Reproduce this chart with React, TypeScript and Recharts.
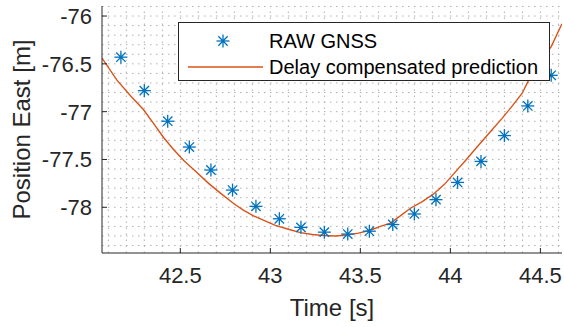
import {
  ComposedChart,
  Line,
  Scatter,
  XAxis,
  YAxis,
  ReferenceLine,
} from "recharts"

// RAW GNSS samples (time [s], east [m])
const gnssTime = [
  42.17, 42.3, 42.43, 42.55, 42.67, 42.79, 42.92, 43.05, 43.17, 43.3,
  43.43, 43.55, 43.68, 43.8, 43.92, 44.04, 44.17, 44.3, 44.43, 44.56,
]
const gnssEast = [
  -76.43, -76.78, -77.1, -77.37, -77.61, -77.82, -77.99, -78.12, -78.21, -78.26,
  -78.28, -78.25, -78.18, -78.07, -77.92, -77.74, -77.52, -77.25, -76.94, -76.62,
]

// delay compensated prediction
const predTime = [
  42.065, 42.148, 42.222, 42.296, 42.35, 42.407, 42.46, 42.519, 42.589, 42.657,
  42.728, 42.796, 42.85, 42.907, 42.967, 43.028, 43.1, 43.167, 43.233, 43.296,
  43.361, 43.426, 43.489, 43.556, 43.611, 43.667, 43.722, 43.778, 43.844, 43.907,
  43.967, 44.028, 44.089, 44.148, 44.217, 44.287, 44.344, 44.398, 44.435, 44.5,
  44.56, 44.62,
]
const predEast = [
  -76.44, -76.67, -76.83, -76.98, -77.12, -77.27, -77.39, -77.51, -77.63, -77.75,
  -77.86, -77.96, -78.03, -78.09, -78.14, -78.19, -78.23, -78.265, -78.285, -78.295,
  -78.3, -78.29, -78.27, -78.24, -78.2, -78.165, -78.09, -78.01, -77.94, -77.86,
  -77.76, -77.63, -77.5, -77.37, -77.22, -77.07, -76.94, -76.81, -76.67, -76.48,
  -76.32, -76.08,
]

const xTicks = [42.5, 43, 43.5, 44, 44.5]
const yTicks = [-78, -77.5, -77, -76.5, -76]
const xDomain: [number, number] = [42.065, 44.62]
const yDomain: [number, number] = [-78.478, -75.895]

// minor grid every 0.1
const minorX = Array.from({ length: 26 }, (_, i) => Math.round((42.1 + i * 0.1) * 10) / 10)
const minorY = Array.from({ length: 26 }, (_, i) => Math.round((-78.4 + i * 0.1) * 10) / 10)

const gnssData = gnssTime.map((t, i) => ({ t, east: gnssEast[i] }))
const predData = predTime.map((t, i) => ({ t, east: predEast[i] }))

const FONT = "'Liberation Sans', Arial, sans-serif"
const AXIS = "#262626"
const BLUE = "#0072BD"
const ORANGE = "#D95319"
const GRID = "#b0b0b0"

function Asterisk({ cx, cy }: { cx?: number; cy?: number }) {
  if (cx == null || cy == null) return null
  const r = 6.5
  const d = r * 0.72
  return (
    <g stroke={BLUE} strokeWidth={1.3} fill="none">
      <line x1={cx - r} y1={cy} x2={cx + r} y2={cy} />
      <line x1={cx} y1={cy - r} x2={cx} y2={cy + r} />
      <line x1={cx - d} y1={cy - d} x2={cx + d} y2={cy + d} />
      <line x1={cx - d} y1={cy + d} x2={cx + d} y2={cy - d} />
      <circle cx={cx} cy={cy} r={1.6} fill={BLUE} stroke="none" />
    </g>
  )
}

// ticks point inward, like MATLAB
function YTick(props: any) {
  const { x, y, payload } = props
  return (
    <g>
      <line x1={x + 10} y1={y} x2={x + 15} y2={y} stroke={AXIS} strokeWidth={1} />
      <text x={x} y={y} dy="0.36em" textAnchor="end" fontSize={22} fontFamily={FONT} fill={AXIS}>
        {payload.value}
      </text>
    </g>
  )
}

function XTick(props: any) {
  const { x, y, payload } = props
  return (
    <g>
      <line x1={x} y1={y - 14} x2={x} y2={y - 19} stroke={AXIS} strokeWidth={1} />
      <text x={x} y={y} dy="0.71em" textAnchor="middle" fontSize={22} fontFamily={FONT} fill={AXIS}>
        {payload.value}
      </text>
    </g>
  )
}

export default function App() {
  return (
    <div style={{ position: "absolute", left: 0, top: 0, width: 564, height: 327, background: "#fff" }}>
      <ComposedChart width={564} height={327} margin={{ top: 6, right: 2, bottom: 0, left: 0 }}>
        <XAxis
          type="number"
          dataKey="t"
          domain={xDomain}
          ticks={xTicks}
          allowDataOverflow
          height={74}
          stroke={AXIS}
          tickLine={false}
          tickSize={0}
          tickMargin={14}
          tick={<XTick />}
          label={{
            content: () => (
              <text x={332} y={316} textAnchor="middle" fontSize={24} fontFamily={FONT} fill={AXIS}>
                Time [s]
              </text>
            ),
          }}
        />
        <YAxis
          type="number"
          dataKey="east"
          domain={yDomain}
          ticks={yTicks}
          allowDataOverflow
          width={102}
          stroke={AXIS}
          tickLine={false}
          tickSize={0}
          tickMargin={10}
          tick={<YTick />}
          label={{
            content: () => (
              <text
                x={30}
                y={129.5}
                transform="rotate(-90, 30, 129.5)"
                textAnchor="middle"
                fontSize={24}
                fontFamily={FONT}
                fill={AXIS}
              >
                Position East [m]
              </text>
            ),
          }}
        />

        {/* dotted minor grid */}
        {minorX.map((v) => (
          <ReferenceLine key={`gx${v}`} x={v} stroke={GRID} strokeDasharray="1.5 4.5" strokeWidth={1} />
        ))}
        {minorY.map((v) => (
          <ReferenceLine key={`gy${v}`} y={v} stroke={GRID} strokeDasharray="1.5 4.5" strokeWidth={1} />
        ))}

        <Scatter
          data={gnssData}
          dataKey="east"
          shape={(p: any) => <Asterisk cx={p.cx} cy={p.cy} />}
          isAnimationActive={false}
        />
        <Line
          data={predData}
          dataKey="east"
          type="linear"
          stroke={ORANGE}
          strokeWidth={1.4}
          dot={false}
          isAnimationActive={false}
        />
      </ComposedChart>

      {/* legend box */}
      <div
        style={{
          position: "absolute",
          left: 178,
          top: 22,
          width: 370,
          height: 57,
          border: `1px solid ${AXIS}`,
          background: "#fff",
          fontFamily: FONT,
          fontSize: 20,
          color: "#000",
        }}
      >
        <svg width={90} height={57} style={{ position: "absolute", left: 0, top: 0 }}>
          <Asterisk cx={44} cy={18} />
          <line x1={9} y1={44} x2={84} y2={44} stroke={ORANGE} strokeWidth={1.4} />
        </svg>
        <div style={{ position: "absolute", left: 90, top: 18, transform: "translateY(-50%)", whiteSpace: "nowrap" }}>
          RAW GNSS
        </div>
        <div style={{ position: "absolute", left: 90, top: 44, transform: "translateY(-50%)", whiteSpace: "nowrap" }}>
          Delay compensated prediction
        </div>
      </div>
    </div>
  )
}
